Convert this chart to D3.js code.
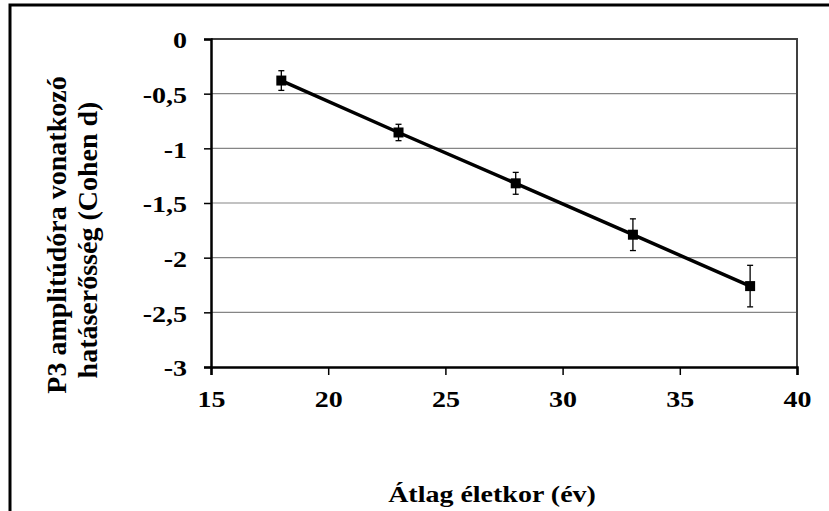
<!DOCTYPE html>
<html>
<head>
<meta charset="utf-8">
<script src="https://cdn.jsdelivr.net/npm/d3@7"></script>
<style>
  body { margin: 0; background: #fff; }
  text { font-family: "Liberation Serif", "Times New Roman", serif; font-weight: bold; fill: #000; }
</style>
</head>
<body>
<div id="chart"></div>
<script>
// data
const ages = [18, 23, 28, 33, 38];
const cohenD = [-0.38, -0.855, -1.32, -1.79, -2.26];
const errors = [0.09, 0.075, 0.1, 0.145, 0.19];
const xTicks = [15, 20, 25, 30, 35, 40];
const yTicks = [0, -0.5, -1, -1.5, -2, -2.5, -3];

const W = 829, H = 511;
const plot = {left: 211, right: 797, top: 39, bottom: 367};
const fs = 28, squash = 0.8;   // the picture's text is a bit flattened

const svg = d3.select("#chart").append("svg")
    .attr("width", W)
    .attr("height", H);

// outer frame (only left and top edges show)
svg.append("rect")
    .attr("x", 10).attr("y", 5)
    .attr("width", W + 20).attr("height", H + 20)
    .attr("fill", "none")
    .attr("stroke", "#000")
    .attr("stroke-width", 3);

const x = d3.scaleLinear().domain([15, 40]).range([plot.left, plot.right]);
const y = d3.scaleLinear().domain([-3, 0]).range([plot.bottom, plot.top]);

// gridlines
svg.append("g")
  .selectAll("line")
  .data(yTicks.filter(d => d != 0 && d != -3))
  .enter().append("line")
    .attr("x1", plot.left).attr("x2", plot.right)
    .attr("y1", d => y(d)).attr("y2", d => y(d))
    .attr("stroke", "#858585")
    .attr("stroke-width", 1.2);

// top and right border of the plot area
svg.append("path")
    .attr("d", `M${plot.left},${y(0)}H${x(40)}V${y(-3)}`)
    .attr("fill", "none")
    .attr("stroke", "#404040")
    .attr("stroke-width", 2);

const fmt = d => String(d).replace(".", ",");

// y axis
const yAxis = svg.append("g")
    .attr("transform", `translate(${plot.left},0)`)
    .call(d3.axisLeft(y).tickValues(yTicks).tickFormat(fmt).tickSize(7).tickPadding(17));
yAxis.select(".domain").attr("stroke", "#000").attr("stroke-width", 2.5);
yAxis.selectAll(".tick line").attr("stroke", "#000").attr("stroke-width", 1.5);
yAxis.selectAll(".tick text")
    .attr("font-size", fs)
    .attr("font-family", null)
    .attr("fill", "#000")
    .attr("y", 2)
    .attr("transform", `scale(1,${squash})`);

// x axis
const xAxis = svg.append("g")
    .attr("transform", `translate(0,${plot.bottom})`)
    .call(d3.axisBottom(x).tickValues(xTicks).tickSize(8));
xAxis.select(".domain").attr("stroke", "#000").attr("stroke-width", 2.5);
xAxis.selectAll(".tick line").attr("stroke", "#000").attr("stroke-width", 1.5);
xAxis.selectAll(".tick text")
    .attr("font-size", fs)
    .attr("font-family", null)
    .attr("fill", "#000")
    .attr("dy", 0)
    .attr("y", 40 / squash)
    .attr("transform", `scale(1,${squash})`);

// axis titles
svg.append("text")
    .attr("transform", `translate(492,502) scale(1,${squash})`)
    .attr("text-anchor", "middle")
    .attr("font-size", fs)
    .text("Átlag életkor (év)");

const yTitle = svg.append("g").attr("transform", "rotate(-90)");
yTitle.append("text")
    .attr("x", -235).attr("y", 66)
    .attr("text-anchor", "middle")
    .attr("font-size", fs)
    .text("P3 amplitúdóra vonatkozó");
yTitle.append("text")
    .attr("x", -240).attr("y", 97)
    .attr("text-anchor", "middle")
    .attr("font-size", fs)
    .text("hatáserősség (Cohen d)");

const pts = ages.map((a, i) => ({age: a, d: cohenD[i], err: errors[i]}));

// line
svg.append("path")
    .datum(pts)
    .attr("fill", "none")
    .attr("stroke", "#000")
    .attr("stroke-width", 3.5)
    .attr("d", d3.line().x(d => x(d.age)).y(d => y(d.d)));

// error bars
const eb = svg.append("g").selectAll("g").data(pts).enter().append("g")
    .attr("stroke", "#000").attr("stroke-width", 1.3);
eb.append("line")
    .attr("x1", d => x(d.age)).attr("x2", d => x(d.age))
    .attr("y1", d => y(d.d + d.err)).attr("y2", d => y(d.d - d.err));
eb.append("line")
    .attr("x1", d => x(d.age) - 3).attr("x2", d => x(d.age) + 3)
    .attr("y1", d => y(d.d + d.err)).attr("y2", d => y(d.d + d.err));
eb.append("line")
    .attr("x1", d => x(d.age) - 3).attr("x2", d => x(d.age) + 3)
    .attr("y1", d => y(d.d - d.err)).attr("y2", d => y(d.d - d.err));

// square markers
svg.append("g").selectAll("rect").data(pts).enter().append("rect")
    .attr("x", d => x(d.age) - 5)
    .attr("y", d => y(d.d) - 5)
    .attr("width", 10).attr("height", 10)
    .attr("fill", "#000");
</script>
</body>
</html>
